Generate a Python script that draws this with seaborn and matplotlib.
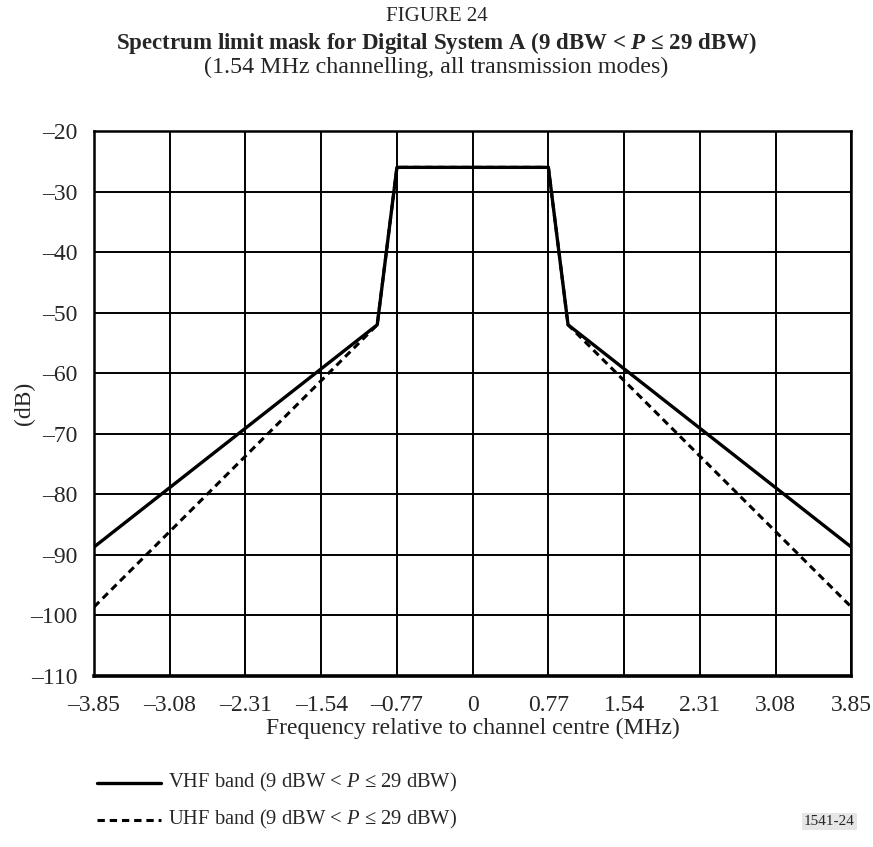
import numpy as np
import pandas as pd
import matplotlib
matplotlib.use("Agg")
import matplotlib.pyplot as plt
import seaborn as sns

# breakpoints of the two masks (MHz, dB)
vhf_freq = [-3.85, -0.97, -0.77, 0.77, 0.97, 3.85]
vhf_level = [-88.7, -52, -26, -26, -52, -88.7]
uhf_freq = [-3.85, -0.97, -0.77, 0.77, 0.97, 3.85]
uhf_level = [-98.6, -52, -26, -26, -52, -98.6]

x_ticks = [-3.85, -3.08, -2.31, -1.54, -0.77, 0, 0.77, 1.54, 2.31, 3.08, 3.85]
x_tick_labels = ["\u20133.85", "\u20133.08", "\u20132.31", "\u20131.54", "\u20130.77", "0",
                 "0.77", "1.54", "2.31", "3.08", "3.85"]
y_ticks = [-20, -30, -40, -50, -60, -70, -80, -90, -100, -110]

sns.set_style("white")
plt.rcParams["font.family"] = ["Liberation Serif", "DejaVu Serif"]
plt.rcParams["mathtext.fontset"] = "custom"
plt.rcParams["mathtext.rm"] = "Liberation Serif"
plt.rcParams["mathtext.it"] = "Liberation Serif:italic"
plt.rcParams["mathtext.bf"] = "Liberation Serif:bold"
plt.rcParams["mathtext.bfit"] = "Liberation Serif:bold:italic"

df = pd.concat([
    pd.DataFrame({"freq": vhf_freq, "level": vhf_level, "band": "VHF"}),
    pd.DataFrame({"freq": uhf_freq, "level": uhf_level, "band": "UHF"}),
])

dash = (0, (2.4, 1.6))

fig = plt.figure(figsize=(8.73, 8.47), dpi=100)
ax = fig.add_axes([0.1077, 0.2019, 0.8674, 0.6434])

sns.lineplot(data=df[df.band == "UHF"], x="freq", y="level", ax=ax,
             color="black", lw=2.2, linestyle=dash, sort=False)
sns.lineplot(data=df[df.band == "VHF"], x="freq", y="level", ax=ax,
             color="black", lw=2.4, sort=False)

ax.set_xlim(-3.85, 3.85)
ax.set_ylim(-110, -20)
ax.set_xticks(x_ticks)
ax.set_xticklabels(x_tick_labels)
ax.set_yticks(y_ticks)
ax.set_yticklabels(["\u2013%d" % abs(v) for v in y_ticks])
ax.grid(True, color="black", lw=1.4)
ax.tick_params(length=0, labelsize=17, pad=14)
ax.tick_params(axis="y", pad=12)
for sp in ax.spines.values():
    sp.set_color("black")
    sp.set_linewidth(1.8)
ax.spines["bottom"].set_linewidth(2.6)
ax.set_xlabel("Frequency relative to channel centre (MHz)", fontsize=17, labelpad=1)
ax.set_ylabel("(dB)", fontsize=17)
ax.yaxis.set_label_coords(-0.078, 0.5)

fig.text(0.5, 0.981, "FIGURE 24", ha="center", va="center", fontsize=15)
fig.text(0.5, 0.949, r"Spectrum limit mask for Digital System A (9 dBW < $\mathbfit{P}$ ≤ 29 dBW)",
         ha="center", va="center", fontsize=16.5, fontweight="bold")
fig.text(0.5, 0.921, "(1.54 MHz channelling, all transmission modes)",
         ha="center", va="center", fontsize=17.3)

# legend drawn beneath the axes
fig.add_artist(plt.Line2D([0.111, 0.184], [0.0756, 0.0756], color="black", lw=2.4))
fig.add_artist(plt.Line2D([0.111, 0.184], [0.0319, 0.0319], color="black", lw=2.2,
                          linestyle=dash))
fig.text(0.193, 0.0756, r"VHF band (9 dBW < $\mathit{P}$ ≤ 29 dBW)", va="center", fontsize=14.8)
fig.text(0.193, 0.0319, r"UHF band (9 dBW < $\mathit{P}$ ≤ 29 dBW)", va="center", fontsize=14.8)
fig.text(0.950, 0.030, "1541-24", ha="center", va="center", fontsize=11,
         bbox=dict(facecolor="#e6e6e6", edgecolor="none", pad=1.5))

fig.savefig("out.png", dpi=100)
